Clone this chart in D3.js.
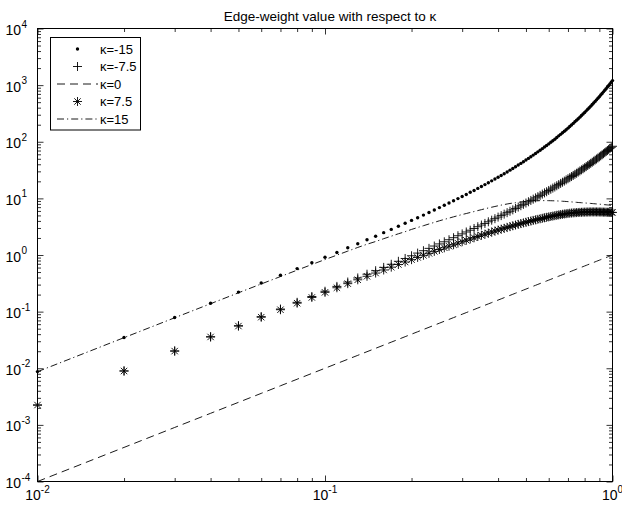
<!DOCTYPE html>
<html>
<head>
<meta charset="utf-8">
<script src="https://cdn.jsdelivr.net/npm/d3@7"></script>
<style>
  body { margin: 0; background: #fff; }
  svg text { font-family: "Liberation Sans", Arial, Helvetica, sans-serif; fill: #000; }
</style>
</head>
<body>
<div id="chart"></div>
<script>
// x grid of the curves
var xValues = [
  0.01, 0.02, 0.03, 0.04, 0.05, 0.06, 0.07, 0.08, 0.09, 0.10,
  0.11, 0.12, 0.13, 0.14, 0.15, 0.16, 0.17, 0.18, 0.19, 0.20,
  0.21, 0.22, 0.23, 0.24, 0.25, 0.26, 0.27, 0.28, 0.29, 0.30,
  0.31, 0.32, 0.33, 0.34, 0.35, 0.36, 0.37, 0.38, 0.39, 0.40,
  0.41, 0.42, 0.43, 0.44, 0.45, 0.46, 0.47, 0.48, 0.49, 0.50,
  0.51, 0.52, 0.53, 0.54, 0.55, 0.56, 0.57, 0.58, 0.59, 0.60,
  0.61, 0.62, 0.63, 0.64, 0.65, 0.66, 0.67, 0.68, 0.69, 0.70,
  0.71, 0.72, 0.73, 0.74, 0.75, 0.76, 0.77, 0.78, 0.79, 0.80,
  0.81, 0.82, 0.83, 0.84, 0.85, 0.86, 0.87, 0.88, 0.89, 0.90,
  0.91, 0.92, 0.93, 0.94, 0.95, 0.96, 0.97, 0.98, 0.99, 1.00
];

// kappa = -15 (dots)
var weightNeg15 = [
  0.00872, 0.0349, 0.0788, 0.141, 0.221, 0.320, 0.438, 0.575, 0.733, 0.913,
  1.11, 1.34, 1.58, 1.86, 2.15, 2.48, 2.83, 3.22, 3.63, 4.08,
  4.56, 5.07, 5.63, 6.23, 6.87, 7.55, 8.28, 9.06, 9.90, 10.8,
  11.7, 12.8, 13.8, 15.0, 16.2, 17.5, 18.9, 20.4, 22.0, 23.6,
  25.4, 27.3, 29.3, 31.5, 33.8, 36.2, 38.8, 41.5, 44.4, 47.5,
  50.8, 54.3, 58.1, 62.0, 66.3, 70.7, 75.5, 80.6, 86.0, 91.7,
  97.9, 104, 111, 119, 127, 135, 144, 153, 163, 174,
  186, 198, 211, 225, 239, 255, 272, 290, 309, 329,
  351, 374, 399, 425, 454, 484, 516, 550, 587, 626,
  668, 713, 761, 812, 866, 925, 987, 1054, 1126, 1202
];

// kappa = -7.5 (plus)
var weightNeg7 = [
  0.00224, 0.00897, 0.0202, 0.0360, 0.0564, 0.0814, 0.111, 0.146, 0.185, 0.229,
  0.279, 0.333, 0.393, 0.458, 0.528, 0.604, 0.686, 0.774, 0.868, 0.969,
  1.08, 1.19, 1.31, 1.44, 1.57, 1.71, 1.86, 2.02, 2.19, 2.36,
  2.55, 2.74, 2.94, 3.16, 3.38, 3.61, 3.86, 4.12, 4.38, 4.67,
  4.96, 5.27, 5.59, 5.92, 6.27, 6.64, 7.02, 7.42, 7.84, 8.27,
  8.72, 9.20, 9.69, 10.2, 10.7, 11.3, 11.9, 12.5, 13.1, 13.8,
  14.5, 15.2, 15.9, 16.7, 17.5, 18.4, 19.3, 20.2, 21.2, 22.2,
  23.2, 24.3, 25.4, 26.6, 27.8, 29.1, 30.5, 31.9, 33.3, 34.8,
  36.4, 38.1, 39.8, 41.6, 43.4, 45.4, 47.4, 49.5, 51.7, 54.0,
  56.4, 58.9, 61.5, 64.2, 67.1, 70.0, 73.1, 76.3, 79.7, 83.2
];

// kappa = 0 (dashed)
var weightZero = [
  0.0001, 0.0004, 0.0009, 0.0016, 0.0025, 0.0036, 0.0049, 0.0064, 0.0081, 0.01,
  0.0121, 0.0144, 0.0169, 0.0196, 0.0225, 0.0256, 0.0289, 0.0324, 0.0361, 0.04,
  0.0441, 0.0484, 0.0529, 0.0576, 0.0625, 0.0676, 0.0729, 0.0784, 0.0841, 0.09,
  0.0961, 0.1024, 0.1089, 0.1156, 0.1225, 0.1296, 0.1369, 0.1444, 0.1521, 0.16,
  0.1681, 0.1764, 0.1849, 0.1936, 0.2025, 0.2116, 0.2209, 0.2304, 0.2401, 0.25,
  0.2601, 0.2704, 0.2809, 0.2916, 0.3025, 0.3136, 0.3249, 0.3364, 0.3481, 0.36,
  0.3721, 0.3844, 0.3969, 0.4096, 0.4225, 0.4356, 0.4489, 0.4624, 0.4761, 0.49,
  0.5041, 0.5184, 0.5329, 0.5476, 0.5625, 0.5776, 0.5929, 0.6084, 0.6241, 0.64,
  0.6561, 0.6724, 0.6889, 0.7056, 0.7225, 0.7396, 0.7569, 0.7744, 0.7921, 0.81,
  0.8281, 0.8464, 0.8649, 0.8836, 0.9025, 0.9216, 0.9409, 0.9604, 0.9801, 1
];

// kappa = 7.5 (asterisk)
var weightPos7 = [
  0.00224, 0.00894, 0.0201, 0.0357, 0.0556, 0.0798, 0.108, 0.141, 0.178, 0.219,
  0.264, 0.312, 0.365, 0.421, 0.480, 0.544, 0.610, 0.680, 0.752, 0.828,
  0.906, 0.988, 1.07, 1.16, 1.25, 1.34, 1.43, 1.52, 1.62, 1.72,
  1.82, 1.92, 2.02, 2.12, 2.23, 2.33, 2.43, 2.54, 2.65, 2.75,
  2.86, 2.96, 3.07, 3.17, 3.28, 3.38, 3.48, 3.59, 3.69, 3.79,
  3.89, 3.99, 4.08, 4.18, 4.27, 4.36, 4.45, 4.54, 4.63, 4.71,
  4.79, 4.87, 4.95, 5.03, 5.10, 5.17, 5.24, 5.31, 5.37, 5.42,
  5.47, 5.51, 5.55, 5.58, 5.61, 5.64, 5.66, 5.68, 5.70, 5.72,
  5.73, 5.74, 5.75, 5.76, 5.76, 5.76, 5.76, 5.76, 5.75, 5.75,
  5.74, 5.73, 5.72, 5.71, 5.70, 5.69, 5.68, 5.67, 5.66, 5.65
];

// kappa = 15 (dash-dot)
var weightPos15 = [
  0.00870, 0.0347, 0.0779, 0.138, 0.215, 0.308, 0.416, 0.540, 0.679, 0.831,
  0.995, 1.17, 1.36, 1.55, 1.73, 1.94, 2.15, 2.37, 2.58, 2.83,
  3.06, 3.29, 3.53, 3.77, 4.02, 4.25, 4.48, 4.72, 4.95, 5.19,
  5.40, 5.63, 5.85, 6.09, 6.32, 6.55, 6.77, 6.98, 7.19, 7.40,
  7.60, 7.78, 7.96, 8.12, 8.26, 8.39, 8.52, 8.63, 8.76, 8.85,
  8.93, 9.00, 9.04, 9.07, 9.09, 9.11, 9.12, 9.12, 9.12, 9.11,
  9.09, 9.07, 9.05, 9.02, 8.98, 8.94, 8.90, 8.86, 8.81, 8.76,
  8.71, 8.66, 8.61, 8.56, 8.51, 8.46, 8.42, 8.38, 8.34, 8.30,
  8.26, 8.22, 8.18, 8.14, 8.10, 8.06, 8.02, 7.98, 7.94, 7.90,
  7.86, 7.82, 7.78, 7.74, 7.70, 7.66, 7.62, 7.58, 7.54, 7.50
];

var seriesLabels = ['\u03ba=-15', '\u03ba=-7.5', '\u03ba=0', '\u03ba=7.5', '\u03ba=15'];
var titleText = 'Edge-weight value with respect to \u03ba';
var xTickExp = [-2, -1, 0];
var yTickExp = [-4, -3, -2, -1, 0, 1, 2, 3, 4];

var width = 622;
var height = 508;
var plot = { left: 37.5, right: 612.5, top: 28.5, bottom: 481.5 };
var tick = { major: 6, minor: 3.5 };

// set svg tag
var svg = d3.select('#chart')
  .append('svg')
  .attr('width', width)
  .attr('height', height);

//set scales
var xScale = d3.scaleLog()
  .domain([Math.pow(10, xTickExp[0]), Math.pow(10, xTickExp[xTickExp.length - 1])])
  .range([plot.left, plot.right]);

var yScale = d3.scaleLog()
  .domain([Math.pow(10, yTickExp[0]), Math.pow(10, yTickExp[yTickExp.length - 1])])
  .range([plot.bottom, plot.top]);

function isPow10(d) {
  var l = Math.log10(d);
  return Math.abs(l - Math.round(l)) < 1e-6;
}

var xMajor = xTickExp.map(function (e) { return Math.pow(10, e); });
var yMajor = yTickExp.map(function (e) { return Math.pow(10, e); });
var xMinor = xScale.ticks().filter(function (d) { return !isPow10(d); });
var yMinor = yScale.ticks().filter(function (d) { return !isPow10(d); });

//draw inward ticks on all four sides
function drawTicks(axisFn, scale, values, size, transform) {
  svg.append('g')
    .attr('class', 'ticks')
    .attr('transform', transform)
    .call(axisFn(scale).tickValues(values).tickSize(size).tickSizeOuter(0).tickFormat(''))
    .call(function (g) { g.select('.domain').remove(); })
    .selectAll('line')
    .attr('stroke', '#000')
    .attr('stroke-width', 0.8);
}

drawTicks(d3.axisBottom, xScale, xMajor, -tick.major, 'translate(0,' + plot.bottom + ')');
drawTicks(d3.axisBottom, xScale, xMinor, -tick.minor, 'translate(0,' + plot.bottom + ')');
drawTicks(d3.axisTop, xScale, xMajor, -tick.major, 'translate(0,' + plot.top + ')');
drawTicks(d3.axisTop, xScale, xMinor, -tick.minor, 'translate(0,' + plot.top + ')');
drawTicks(d3.axisLeft, yScale, yMajor, -tick.major, 'translate(' + plot.left + ',0)');
drawTicks(d3.axisLeft, yScale, yMinor, -tick.minor, 'translate(' + plot.left + ',0)');
drawTicks(d3.axisRight, yScale, yMajor, -tick.major, 'translate(' + plot.right + ',0)');
drawTicks(d3.axisRight, yScale, yMinor, -tick.minor, 'translate(' + plot.right + ',0)');

//box
svg.append('rect')
  .attr('x', plot.left)
  .attr('y', plot.top)
  .attr('width', plot.right - plot.left)
  .attr('height', plot.bottom - plot.top)
  .attr('fill', 'none')
  .attr('stroke', '#000')
  .attr('stroke-width', 1);

//x tick labels 10^n
var xLabels = svg.append('g').attr('class', 'xlabels')
  .selectAll('text')
  .data(xTickExp).enter()
  .append('text')
  .attr('x', function (d) { return xScale(Math.pow(10, d)); })
  .attr('y', 500)
  .attr('text-anchor', 'middle')
  .style('font-size', '14px');
xLabels.append('tspan').text('10');
xLabels.append('tspan')
  .attr('dy', -7)
  .style('font-size', '10px')
  .text(function (d) { return String(d); });

//y tick labels: base right aligned, exponent after it
var yLabels = svg.append('g').attr('class', 'ylabels');
yLabels.selectAll('text.base')
  .data(yTickExp).enter()
  .append('text')
  .attr('class', 'base')
  .attr('x', 21)
  .attr('y', function (d) { return yScale(Math.pow(10, d)) + 6.5; })
  .attr('text-anchor', 'end')
  .style('font-size', '14px')
  .text('10');
yLabels.selectAll('text.exp')
  .data(yTickExp).enter()
  .append('text')
  .attr('class', 'exp')
  .attr('x', 21.5)
  .attr('y', function (d) { return yScale(Math.pow(10, d)) - 1; })
  .style('font-size', '10px')
  .text(function (d) { return String(d); });

//title
svg.append('text')
  .attr('x', 330)
  .attr('y', 21)
  .attr('text-anchor', 'middle')
  .style('font-size', '13.5px')
  .text(titleText);

//marker shapes
var markerPath = {
  dot: null,
  plus: 'M-4.5,0H4.5M0,-4.5V4.5',
  star: 'M-4.5,0H4.5M0,-4.5V4.5M-3.2,-3.2L3.2,3.2M-3.2,3.2L3.2,-3.2'
};

var series = [
  { label: seriesLabels[0], values: weightNeg15, marker: 'dot' },
  { label: seriesLabels[1], values: weightNeg7, marker: 'plus' },
  { label: seriesLabels[2], values: weightZero, dash: '8,5' },
  { label: seriesLabels[3], values: weightPos7, marker: 'star' },
  { label: seriesLabels[4], values: weightPos15, dash: '7,3,1.2,3' }
];

var line = d3.line()
  .x(function (d) { return xScale(d[0]); })
  .y(function (d) { return yScale(d[1]); });

var plotG = svg.append('g').attr('class', 'series');

function drawMarker(g, kind, cx, cy) {
  if (kind === 'dot') {
    g.append('circle').attr('cx', cx).attr('cy', cy).attr('r', 1.7).attr('fill', '#000');
  } else {
    g.append('path')
      .attr('d', markerPath[kind])
      .attr('transform', 'translate(' + cx + ',' + cy + ')')
      .attr('fill', 'none')
      .attr('stroke', '#000')
      .attr('stroke-width', 0.9);
  }
}

series.forEach(function (s) {
  var pts = xValues.map(function (x, i) { return [x, s.values[i]]; });
  var g = plotG.append('g');
  if (s.dash) {
    g.append('path')
      .attr('d', line(pts))
      .attr('fill', 'none')
      .attr('stroke', '#000')
      .attr('stroke-width', 0.9)
      .attr('stroke-dasharray', s.dash);
  } else {
    pts.forEach(function (p) { drawMarker(g, s.marker, xScale(p[0]), yScale(p[1])); });
  }
});

//legend
var legend = { x: 50.5, y: 37.5, w: 90, h: 92.5, row: 17.5 };
var lg = svg.append('g').attr('class', 'legend');
lg.append('rect')
  .attr('x', legend.x)
  .attr('y', legend.y)
  .attr('width', legend.w)
  .attr('height', legend.h)
  .attr('fill', '#fff')
  .attr('stroke', '#000')
  .attr('stroke-width', 1);

series.forEach(function (s, i) {
  var cy = legend.y + 11.5 + i * legend.row;
  if (s.dash) {
    lg.append('line')
      .attr('x1', 57).attr('x2', 98)
      .attr('y1', cy).attr('y2', cy)
      .attr('stroke', '#000')
      .attr('stroke-width', 0.9)
      .attr('stroke-dasharray', s.dash);
  } else {
    drawMarker(lg, s.marker, 77.5, cy);
  }
  lg.append('text')
    .attr('x', 100)
    .attr('y', cy + 4.5)
    .style('font-size', '13px')
    .text(s.label);
});
</script>
</body>
</html>
